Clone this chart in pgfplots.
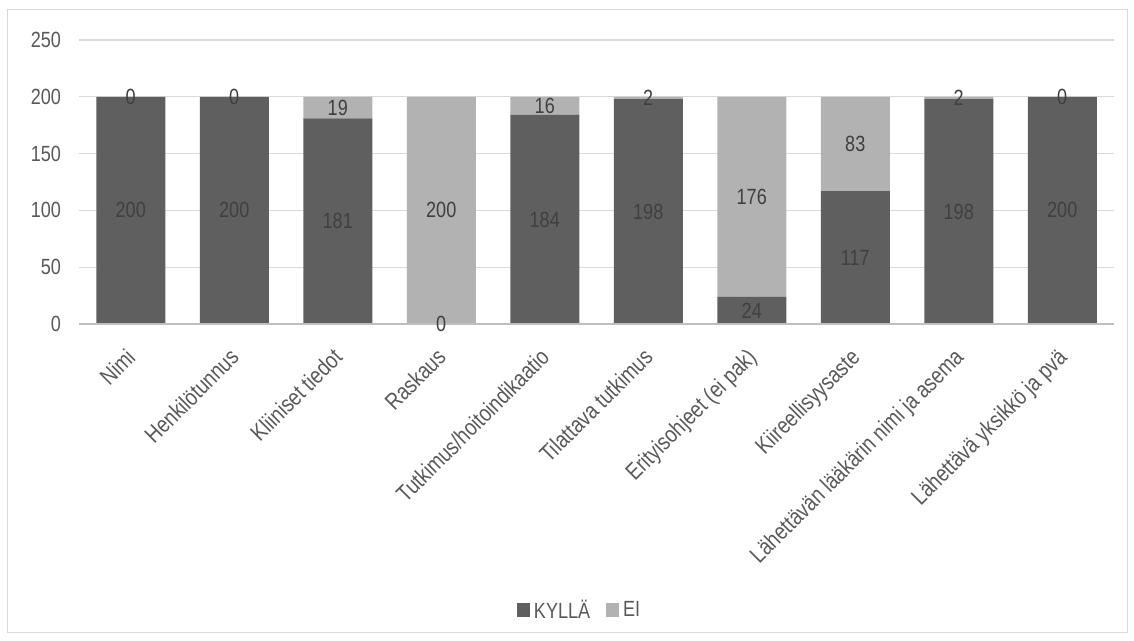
\documentclass[border=0pt]{standalone}
\usepackage{pgfplots}
\pgfplotsset{compat=1.18}
\usepackage{fontspec}
\setmainfont{Liberation Sans}[FakeStretch=0.82]
\definecolor{dk}{HTML}{5F5F5F}
\definecolor{lt}{HTML}{B2B2B2}
\definecolor{txt}{HTML}{595959}
\definecolor{lbl}{HTML}{404040}
\definecolor{grd}{HTML}{D9D9D9}
\definecolor{axl}{HTML}{BFBFBF}
\pgfplotstableread{
x kylla ei
0 200 0
1 200 0
2 181 19
3 0 200
4 184 16
5 198 2
6 24 176
7 117 83
8 198 2
9 200 0
}\datatable
\pgfplotstableread{
x mid lab
0 100 200
1 100 200
2 90.5 181
3 0 0
4 92 184
5 99 198
6 12 24
7 58.5 117
8 99 198
9 100 200
0 200 0
1 200 0
2 190.5 19
3 100 200
4 192 16
5 199 2
6 112 176
7 158.5 83
8 199 2
9 200 0
}\labtable
\pgfplotsset{
  geom/.style={at={(59.25pt,237pt)}, anchor=south west,
  scale only axis, width=776.25pt, height=213pt,
  xmin=-0.5, xmax=9.5, ymin=0, ymax=250, clip=false}
}
\begin{document}
\begin{tikzpicture}
\useasboundingbox (0,0) rectangle (850.5pt,480pt);
\draw[grd, line width=0.75pt] (5.25pt,6pt) rectangle (845.25pt,472.5pt);
\begin{axis}[
  geom,
  ybar stacked, bar width=51.75pt,
  ytick={0,50,...,250},
  xtick=data,
  xticklabels={Nimi,Henkilötunnus,Kliiniset tiedot,Raskaus,Tutkimus/hoitoindikaatio,Tilattava tutkimus,Erityisohjeet (ei pak),Kiireellisyysaste,Lähettävän lääkärin nimi ja asema,Lähettävä yksikkö ja pvä},
  xticklabel style={anchor=north east, inner sep=0pt, xshift=-4.5pt, yshift=-17pt, rotate=45, font=\fontsize{17.5}{20}\selectfont, text=txt},
  yticklabel style={font=\fontsize{16.5}{20}\selectfont, text=txt, xshift=-10pt},
  /pgf/number format/assume math mode=true,
  major tick length=0pt,
  axis line style={draw=none},
  ymajorgrids, grid style={grd, line width=0.9pt},
  legend style={at={(0.484,-1.007)}, anchor=center, draw=none, fill=none, legend columns=2, font=\fontsize{16.5}{20}\selectfont, text=txt,
    /tikz/every odd column/.append style={column sep=1pt},
    /tikz/every even column/.append style={column sep=10pt}},
  legend cell align=left,
  legend image code/.code={\fill[#1] (0pt,-4.9pt) rectangle (9.75pt,4.9pt);},
]
\addplot[fill=dk, draw=none] table[x=x, y=kylla] {\datatable};
\addplot[fill=lt, draw=none] table[x=x, y=ei] {\datatable};
\legend{KYLLÄ,EI}
\end{axis}
\draw[axl, line width=1pt] (59.25pt,237pt) -- (835.5pt,237pt);
\begin{axis}[geom, hide axis]
\addplot[only marks, mark=none, nodes near coords, point meta=explicit symbolic,
  every node near coord/.append style={anchor=center, font=\fontsize{16.5}{20}\selectfont, text=lbl}]
  table[x=x, y=mid, meta=lab] {\labtable};
\end{axis}
\end{tikzpicture}
\end{document}
